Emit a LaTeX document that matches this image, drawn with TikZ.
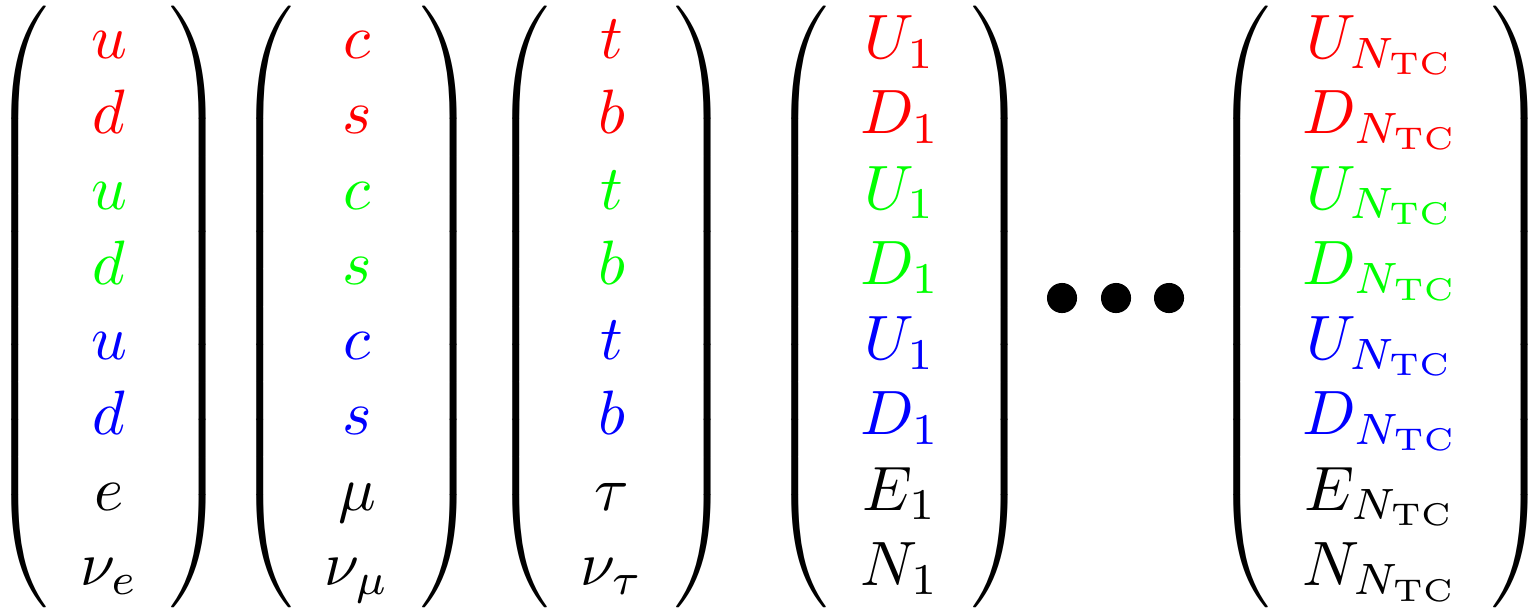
\documentclass[tikz,border=0pt]{standalone}
\usepackage{amsmath,amssymb}
\usepackage{xcolor}
\usepackage{tikz}
\usetikzlibrary{positioning}
\newcommand{\qr}[1]{\textcolor{red}{#1}}
\newcommand{\qg}[1]{\textcolor{green}{#1}}
\newcommand{\qb}[1]{\textcolor{blue}{#1}}
\newcommand{\ntc}{N_{\mathrm{TC}}}

\begin{document}
\begin{tikzpicture}[
  x=0.1595pt, y=-0.1595pt,
  gen/.style={inner sep=0pt, outer sep=0pt},
  dot/.style={circle, fill=black, inner sep=0pt, minimum size=4.8pt},
]
\useasboundingbox (0,0) rectangle (1540,613);
\setlength{\arraycolsep}{5pt}
% generations
\node[gen] (g1) at (109,307) {$\left(\begin{array}{c}
  \qr{u}\\ \qr{d}\\ \qg{u}\\ \qg{d}\\ \qb{u}\\ \qb{d}\\ e\\ \nu_e
  \end{array}\right)$};
\node[gen] (g2) at (357,307) {$\left(\begin{array}{c}
  \qr{c}\\ \qr{s}\\ \qg{c}\\ \qg{s}\\ \qb{c}\\ \qb{s}\\ \mu\\ \nu_\mu
  \end{array}\right)$};
\node[gen] (g3) at (612,307) {$\left(\begin{array}{c}
  \qr{t}\\ \qr{b}\\ \qg{t}\\ \qg{b}\\ \qb{t}\\ \qb{b}\\ \tau\\ \nu_\tau
  \end{array}\right)$};
\node[gen] (tc1) at (900,307) {$\left(\begin{array}{c}
  \qr{U_1}\\ \qr{D_1}\\ \qg{U_1}\\ \qg{D_1}\\ \qb{U_1}\\ \qb{D_1}\\ E_1\\ N_1
  \end{array}\right)$};
\node[gen] (tcn) at (1381,307) {$\left(\begin{array}{c}
  \qr{U_{\ntc}}\\ \qr{D_{\ntc}}\\ \qg{U_{\ntc}}\\ \qg{D_{\ntc}}\\
  \qb{U_{\ntc}}\\ \qb{D_{\ntc}}\\ E_{\ntc}\\ N_{\ntc}
  \end{array}\right)$};
% dots
\node[dot] (d1) at (1062,298) {};
\node[dot] (d2) at (1116,298) {};
\node[dot] (d3) at (1169,298) {};
\end{tikzpicture}
\end{document}
